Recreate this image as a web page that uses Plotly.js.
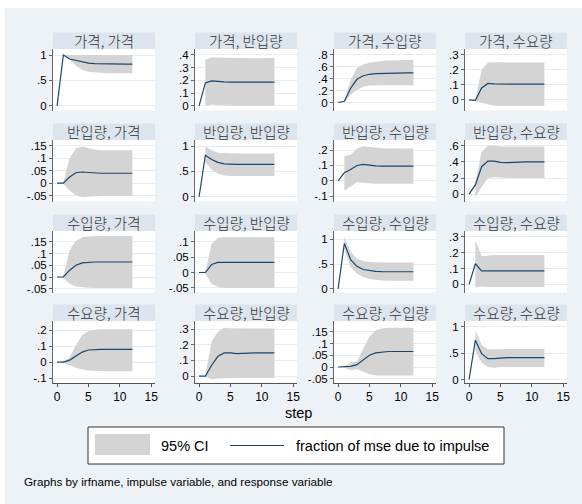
<!DOCTYPE html>
<html><head><meta charset="utf-8">
<script src="https://cdn.plot.ly/plotly-3.0.1.min.js"></script>
<style>html,body{margin:0;padding:0;background:#fff}#chart{width:582px;height:504px}</style>
</head><body><div id="chart"></div>
<script>
// ---------- data ----------
const steps = [0,1,2,3,4,5,6,7,8,9,10,11,12];
const ciSteps = [1,2,3,4,5,6,7,8,9,10,11,12];
const impulseNames = ['가격','반입량','수입량','수요량'];
const responseNames = ['가격','반입량','수입량','수요량'];
const xTickLabels = ['0','5','10','15'];

// row 1: impulse 가격
const p01_line = [0,1.0,0.92,0.89,0.86,0.84,0.83,0.825,0.82,0.82,0.82,0.82,0.82];
const p01_lo   = [1.0,0.91,0.79,0.71,0.67,0.655,0.645,0.64,0.64,0.64,0.64,0.64];
const p01_hi   = [1.0,1.0,1.0,1.0,1.0,1.0,1.0,1.0,1.0,1.0,1.0,1.0];
const p01_ticks = ['0','.5','1'];

const p02_line = [0,0.18,0.196,0.19,0.188,0.187,0.186,0.186,0.186,0.186,0.186,0.186,0.186];
const p02_lo   = [0,0.01,0.006,0.003,0.002,0.001,0,0,0,0,0,0];
const p02_hi   = [0.36,0.38,0.38,0.378,0.376,0.375,0.375,0.375,0.375,0.376,0.376,0.376];
const p02_ticks = ['0','.1','.2','.3','.4'];

const p03_line = [0,0.02,0.24,0.39,0.45,0.475,0.485,0.49,0.495,0.5,0.5,0.5,0.5];
const p03_lo   = [-0.01,0.13,0.21,0.265,0.285,0.29,0.29,0.29,0.29,0.29,0.29,0.29];
const p03_hi   = [0.045,0.38,0.58,0.64,0.67,0.69,0.7,0.705,0.71,0.715,0.72,0.72];
const p03_ticks = ['0','.2','.4','.6','.8'];

const p04_line = [0,-0.003,0.08,0.11,0.107,0.105,0.105,0.105,0.105,0.105,0.105,0.105,0.105];
const p04_lo   = [-0.01,-0.02,-0.035,-0.04,-0.04,-0.04,-0.04,-0.04,-0.04,-0.04,-0.04,-0.04];
const p04_hi   = [0.005,0.2,0.25,0.253,0.252,0.25,0.25,0.25,0.25,0.25,0.25,0.25];
const p04_ticks = ['0','.1','.2','.3'];

// row 2: impulse 반입량
const p05_line = [0,0,0.025,0.042,0.045,0.043,0.041,0.04,0.04,0.04,0.04,0.04,0.04];
const p05_lo   = [-0.003,-0.03,-0.05,-0.057,-0.055,-0.052,-0.052,-0.052,-0.052,-0.052,-0.052,-0.052];
const p05_hi   = [0.003,0.1,0.14,0.148,0.141,0.135,0.133,0.133,0.133,0.133,0.133,0.133];
const p05_ticks = ['-.05','0','.05','.1','.15'];

const p06_line = [0,0.82,0.735,0.68,0.65,0.64,0.64,0.64,0.64,0.64,0.64,0.64,0.64];
const p06_lo   = [0.68,0.54,0.46,0.42,0.41,0.41,0.41,0.41,0.41,0.41,0.41,0.41];
const p06_hi   = [0.99,0.92,0.87,0.86,0.855,0.855,0.855,0.855,0.855,0.855,0.855,0.855];
const p06_ticks = ['0','.5','1'];

const p07_line = [0,0.053,0.073,0.1,0.107,0.1,0.097,0.096,0.096,0.096,0.096,0.096,0.096];
const p07_lo   = [-0.065,-0.035,-0.01,-0.012,-0.018,-0.02,-0.02,-0.02,-0.02,-0.02,-0.02,-0.02];
const p07_hi   = [0.16,0.17,0.21,0.225,0.22,0.215,0.212,0.21,0.21,0.21,0.21,0.21];
const p07_ticks = ['-.1','0','.1','.2'];

const p08_line = [0,0.115,0.34,0.41,0.41,0.395,0.39,0.395,0.4,0.4,0.4,0.4,0.4];
const p08_lo   = [-0.04,0.09,0.2,0.21,0.205,0.2,0.2,0.2,0.2,0.2,0.2,0.2];
const p08_hi   = [0.15,0.525,0.6,0.6,0.59,0.59,0.59,0.59,0.59,0.59,0.59,0.59];
const p08_ticks = ['0','.2','.4','.6'];

// row 3: impulse 수입량
const p09_line = [0,0,0.029,0.05,0.06,0.063,0.064,0.064,0.064,0.064,0.064,0.064,0.064];
const p09_lo   = [-0.003,-0.029,-0.04,-0.044,-0.046,-0.047,-0.047,-0.047,-0.047,-0.047,-0.047,-0.047];
const p09_hi   = [0.003,0.114,0.154,0.169,0.173,0.175,0.175,0.175,0.175,0.175,0.175,0.175];
const p09_ticks = ['-.05','0','.05','.1','.15'];

const p10_line = [0,0,0.026,0.033,0.033,0.033,0.033,0.033,0.033,0.033,0.033,0.033,0.033];
const p10_lo   = [-0.004,-0.037,-0.046,-0.05,-0.05,-0.05,-0.05,-0.05,-0.05,-0.05,-0.05,-0.05];
const p10_hi   = [0.003,0.093,0.112,0.115,0.115,0.115,0.115,0.115,0.115,0.115,0.115,0.115];
const p10_ticks = ['-.05','0','.05','.1'];

const p11_line = [0,0.92,0.59,0.455,0.39,0.37,0.354,0.347,0.345,0.345,0.345,0.345,0.345];
const p11_lo   = [0.8,0.44,0.31,0.24,0.2,0.18,0.17,0.165,0.165,0.165,0.165,0.165];
const p11_hi   = [1.05,0.75,0.61,0.565,0.54,0.53,0.53,0.53,0.53,0.53,0.53,0.53];
const p11_ticks = ['0','.5','1'];

const p12_line = [0,0.13,0.085,0.085,0.085,0.085,0.085,0.085,0.085,0.085,0.085,0.085,0.085];
const p12_lo   = [-0.02,-0.013,-0.016,-0.017,-0.017,-0.017,-0.017,-0.017,-0.017,-0.017,-0.017,-0.017];
const p12_hi   = [0.28,0.177,0.18,0.187,0.185,0.185,0.185,0.185,0.185,0.185,0.185,0.185];
const p12_ticks = ['0','.1','.2','.3'];

// row 4: impulse 수요량
const p13_line = [0,0,0.013,0.04,0.063,0.076,0.08,0.08,0.08,0.08,0.08,0.08,0.08];
const p13_lo   = [-0.004,-0.017,-0.035,-0.046,-0.052,-0.055,-0.057,-0.057,-0.057,-0.057,-0.057,-0.057];
const p13_hi   = [0.004,0.03,0.105,0.17,0.193,0.203,0.205,0.205,0.205,0.205,0.205,0.205];
const p13_ticks = ['-.1','0','.1','.2'];

const p14_line = [0,0,0.069,0.126,0.148,0.148,0.143,0.146,0.148,0.148,0.148,0.148,0.148];
const p14_lo   = [-0.004,-0.02,-0.015,-0.013,-0.013,-0.013,-0.013,-0.013,-0.013,-0.013,-0.013,-0.013];
const p14_hi   = [0.004,0.22,0.283,0.308,0.305,0.303,0.303,0.303,0.303,0.303,0.303,0.303];
const p14_ticks = ['0','.1','.2','.3'];

const p15_line = [0,0,0.003,0.01,0.029,0.05,0.06,0.064,0.066,0.066,0.066,0.066,0.066];
const p15_lo   = [-0.003,-0.014,-0.01,-0.021,-0.031,-0.036,-0.036,-0.036,-0.036,-0.036,-0.036,-0.036];
const p15_hi   = [0.003,0.019,0.024,0.079,0.129,0.157,0.164,0.167,0.167,0.167,0.167,0.167];
const p15_ticks = ['-.05','0','.05','.1','.15'];

const p16_line = [0,0.745,0.49,0.395,0.395,0.41,0.414,0.414,0.414,0.414,0.414,0.414,0.414];
const p16_lo   = [0.535,0.32,0.236,0.225,0.235,0.236,0.236,0.236,0.236,0.236,0.236,0.236];
const p16_hi   = [0.94,0.66,0.567,0.575,0.58,0.58,0.58,0.58,0.58,0.58,0.58,0.58];
const p16_ticks = ['0','.5','1'];

const legendLabels = ['95% CI','fraction of mse due to impulse'];
const xTitle = 'step';
const noteText = 'Graphs by irfname, impulse variable, and response variable';

// ---------- assembly ----------
const lines = [p01_line,p02_line,p03_line,p04_line,p05_line,p06_line,p07_line,p08_line,p09_line,p10_line,p11_line,p12_line,p13_line,p14_line,p15_line,p16_line];
const los = [p01_lo,p02_lo,p03_lo,p04_lo,p05_lo,p06_lo,p07_lo,p08_lo,p09_lo,p10_lo,p11_lo,p12_lo,p13_lo,p14_lo,p15_lo,p16_lo];
const his = [p01_hi,p02_hi,p03_hi,p04_hi,p05_hi,p06_hi,p07_hi,p08_hi,p09_hi,p10_hi,p11_hi,p12_hi,p13_hi,p14_hi,p15_hi,p16_hi];
const ticks = [p01_ticks,p02_ticks,p03_ticks,p04_ticks,p05_ticks,p06_ticks,p07_ticks,p08_ticks,p09_ticks,p10_ticks,p11_ticks,p12_ticks,p13_ticks,p14_ticks,p15_ticks,p16_ticks];

// layout geometry (pixels)
const W = 582, H = 504;
const X = px => px / W;
const Y = py => 1 - py / H;
const colL = [53, 195, 334, 465];
const plotW = 102;
const rowT = [49, 140, 231, 321];
const plotH = 61.5;
const stripH = 16.5;
const yRanges = [
  [-0.092,1.118],[-0.037,0.447],[-0.134,0.9],[-0.071,0.34],
  [-0.074,0.174],[-0.093,1.12],[-0.135,0.266],[-0.091,0.671],
  [-0.066,0.196],[-0.065,0.135],[-0.075,1.17],[-0.051,0.336],
  [-0.127,0.257],[-0.041,0.351],[-0.066,0.196],[-0.057,1.109]
];

const BG = '#edf2f6', STRIP = '#dce5ed', BAND = '#d4d4d4', LINE = '#1a476f';
const LATIN = 'Liberation Sans, Arial, sans-serif';
const KOR = '"Noto Sans CJK KR", sans-serif';

const traces = [];
const layout = {
  width: W, height: H,
  margin: {l:0, r:0, t:0, b:0},
  paper_bgcolor: BG, plot_bgcolor: '#ffffff',
  showlegend: false,
  shapes: [], annotations: []
};

for (let k = 0; k < 16; k++) {
  const r = Math.floor(k / 4), c = k % 4;
  const id = k === 0 ? '' : String(k + 1);
  const xa = 'x' + id, ya = 'y' + id;
  traces.push({x: ciSteps, y: los[k], type:'scatter', mode:'lines', line:{width:0, color:BAND}, xaxis:xa, yaxis:ya, hoverinfo:'skip'});
  traces.push({x: ciSteps, y: his[k], type:'scatter', mode:'lines', line:{width:0, color:BAND}, fill:'tonexty', fillcolor:BAND, xaxis:xa, yaxis:ya, hoverinfo:'skip'});
  traces.push({x: steps, y: lines[k], type:'scatter', mode:'lines', line:{width:1.2, color:LINE}, xaxis:xa, yaxis:ya, hoverinfo:'skip'});

  const L = colL[c], T = rowT[r];
  const bottom = r === 3;
  layout['xaxis' + id] = {
    domain: [X(L), X(L + plotW)], anchor: ya, range: [-0.65, 15.6],
    showgrid: false, zeroline: false,
    showline: bottom, linecolor: '#555', linewidth: 1,
    ticks: bottom ? 'outside' : '', ticklen: 3, tickcolor: '#555',
    tickvals: xTickLabels.map(Number), ticktext: xTickLabels,
    showticklabels: bottom,
    tickfont: {family: LATIN, size: 12, color: '#000'}
  };
  layout['yaxis' + id] = {
    domain: [Y(T + plotH), Y(T)], anchor: xa, range: yRanges[k],
    showgrid: true, gridcolor: '#e6edf2', gridwidth: 1, zeroline: false,
    showline: true, linecolor: '#666', linewidth: 1,
    ticks: 'outside', ticklen: 3, tickcolor: '#666',
    tickvals: ticks[k].map(parseFloat), ticktext: ticks[k],
    tickfont: {family: LATIN, size: 11.5, color: '#000'}
  };
  // strip
  layout.shapes.push({type:'rect', xref:'paper', yref:'paper', x0:X(L), x1:X(L + plotW), y0:Y(T), y1:Y(T - stripH), fillcolor:STRIP, line:{width:0}, layer:'below'});
  layout.annotations.push({xref:'paper', yref:'paper', x:X(L + plotW/2), y:Y(T - stripH/2), xanchor:'center', yanchor:'middle', showarrow:false,
    text: impulseNames[r] + ', ' + responseNames[c], font:{family: KOR, size:14.5, weight:300, color:'#333'}});
}

// white outer edge (graph region inset)
layout.shapes.push({type:'rect', xref:'paper', yref:'paper', x0:0, x1:X(5), y0:0, y1:1, fillcolor:'#ffffff', line:{width:0}});
layout.shapes.push({type:'rect', xref:'paper', yref:'paper', x0:0, x1:1, y0:Y(8), y1:1, fillcolor:'#ffffff', line:{width:0}});

// x title
layout.annotations.push({xref:'paper', yref:'paper', x:X(298), y:Y(413), xanchor:'center', yanchor:'middle', showarrow:false,
  text: xTitle, font:{family: LATIN, size:14.5, color:'#000'}});

// legend box
layout.shapes.push({type:'rect', xref:'paper', yref:'paper', x0:X(88), x1:X(504), y0:Y(464), y1:Y(427), fillcolor:'#ffffff', line:{width:1, color:'#333'}});
layout.shapes.push({type:'rect', xref:'paper', yref:'paper', x0:X(95), x1:X(150), y0:Y(455), y1:Y(434), fillcolor:BAND, line:{width:0}});
layout.shapes.push({type:'line', xref:'paper', yref:'paper', x0:X(230), x1:X(284), y0:Y(445.5), y1:Y(445.5), line:{width:1.2, color:LINE}});
layout.annotations.push({xref:'paper', yref:'paper', x:X(159), y:Y(445.5), xanchor:'left', yanchor:'middle', showarrow:false,
  text: legendLabels[0], font:{family: LATIN, size:14.5, color:'#000'}});
layout.annotations.push({xref:'paper', yref:'paper', x:X(294), y:Y(445.5), xanchor:'left', yanchor:'middle', showarrow:false,
  text: legendLabels[1], font:{family: LATIN, size:14.5, color:'#000'}});

// note
layout.annotations.push({xref:'paper', yref:'paper', x:X(22), y:Y(481), xanchor:'left', yanchor:'middle', showarrow:false,
  text: noteText, font:{family: LATIN, size:11.7, color:'#000'}});

Plotly.newPlot('chart', traces, layout, {staticPlot:true, displayModeBar:false});
</script>
</body></html>
